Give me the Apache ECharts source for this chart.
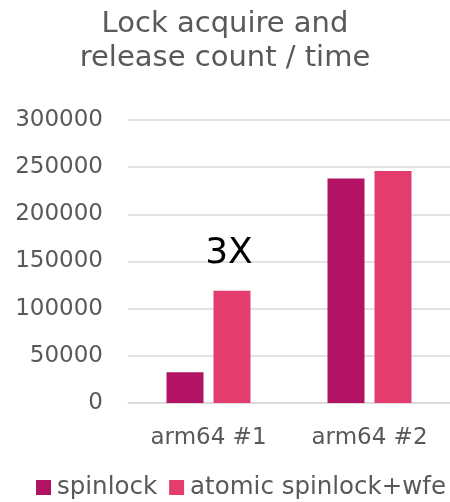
<!DOCTYPE html>
<html>
<head>
<meta charset="utf-8">
<script src="https://cdn.jsdelivr.net/npm/echarts@6/dist/echarts.min.js"></script>
<style>html,body{margin:0;padding:0;background:#fff}#c{width:450px;height:502px}</style>
</head>
<body>
<div id="c"></div>
<script>
const titleText = 'Lock acquire and\nrelease count / time';
const categories = ['arm64 #1', 'arm64 #2'];
const seriesNames = ['spinlock', 'atomic spinlock+wfe'];
const spinlock = [32500, 238000];
const atomicWfe = [119000, 246000];
const annotation = { text: '3X', category: 'arm64 #1', value: 158000 };
const yMin = 0, yMax = 300000, yStep = 50000;

const FONT = 'DejaVu Sans';
const GREY = '#595959';
const chart = echarts.init(document.getElementById('c'), null, { renderer: 'canvas' });
chart.setOption({
  animation: false,
  textStyle: { fontFamily: FONT },
  title: {
    text: titleText,
    left: 'center',
    top: 7,
    padding: [0, 0, 0, 8],
    textStyle: { fontFamily: FONT, fontSize: 29, lineHeight: 34, fontWeight: 'normal', color: GREY }
  },
  legend: {
    data: seriesNames,
    left: 36,
    top: 475,
    width: 800,
    padding: 0,
    itemWidth: 15,
    itemHeight: 15,
    itemGap: 12,
    icon: 'rect',
    textStyle: { fontFamily: FONT, fontSize: 24.5, color: GREY, padding: [0, 0, 0, 1] }
  },
  grid: { left: 128, right: -5, top: 120, bottom: 99 },
  xAxis: {
    type: 'category',
    data: categories,
    axisLine: { lineStyle: { color: '#D9D9D9', width: 1.5 } },
    axisTick: { show: false },
    axisLabel: { fontFamily: FONT, fontSize: 23, color: GREY, margin: 24 }
  },
  yAxis: {
    type: 'value',
    min: yMin, max: yMax, interval: yStep,
    axisLine: { show: false },
    axisTick: { show: false },
    splitLine: { lineStyle: { color: '#D9D9D9', width: 1.5 } },
    axisLabel: { fontFamily: FONT, fontSize: 23, color: GREY, margin: 25, formatter: v => String(v) }
  },
  series: [
    {
      name: seriesNames[0], type: 'bar', data: spinlock,
      barWidth: 37, barGap: '27%',
      itemStyle: { color: '#B11262' }
    },
    {
      name: seriesNames[1], type: 'bar', data: atomicWfe,
      barWidth: 37, barGap: '27%',
      itemStyle: { color: '#E33C6E' },
      markPoint: {
        symbol: 'rect', symbolSize: 0,
        label: { show: true, position: 'inside', formatter: annotation.text, fontFamily: FONT, fontSize: 36, color: '#000', offset: [-3, 0] },
        data: [{ coord: [annotation.category, annotation.value] }]
      }
    }
  ]
});
</script>
</body>
</html>
